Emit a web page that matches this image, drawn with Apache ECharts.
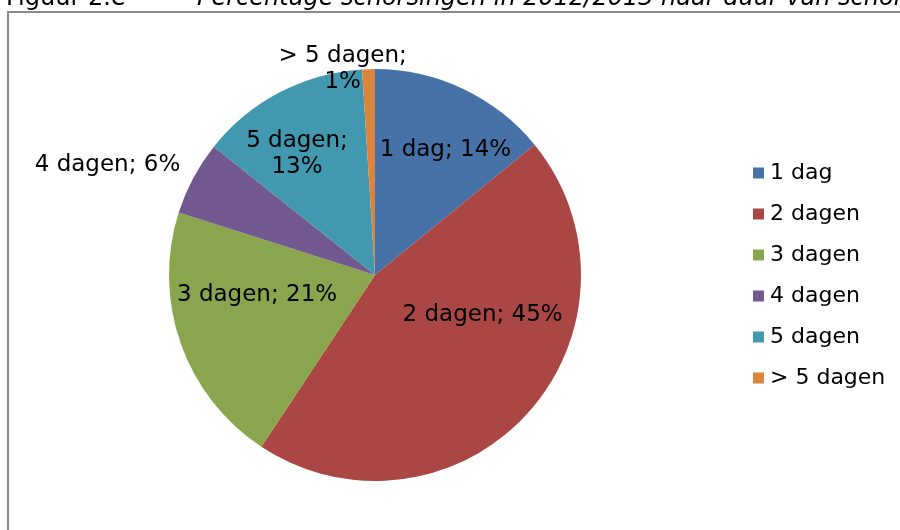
<!DOCTYPE html>
<html>
<head>
<meta charset="utf-8">
<script src="https://cdn.jsdelivr.net/npm/echarts@6/dist/echarts.min.js"></script>
<style>
  html, body { margin: 0; padding: 0; background: #fff; }
  #chart { width: 900px; height: 530px; }
</style>
</head>
<body>
<div id="chart"></div>
<script>
// duur van schorsing
const categories = ["1 dag", "2 dagen", "3 dagen", "4 dagen", "5 dagen", "> 5 dagen"];
// percentage schorsingen 2012/2013
const values = [14.1, 45.2, 20.6, 5.8, 13.3, 1.0];
const colors = ["#4672A8", "#AA4643", "#89A54E", "#71588F", "#4198AF", "#DB843D"];

// labels die over twee regels lopen
const wrapped = ["5 dagen", "> 5 dagen"];
// verschuiving van de labels t.o.v. het midden van de straal
const labelOffsets = [[25, -29], [29, -31], [-18, -15], [-174, -60], [-29, -27], [-29, -100]];

const font = "DejaVu Sans, Verdana, sans-serif";
const chart = echarts.init(document.getElementById("chart"));

const option = {
  animation: false,
  color: colors,
  graphic: [
    {
      type: "rect",
      shape: { x: 8, y: 12, width: 1000, height: 1000 },
      style: { fill: "none", stroke: "#8a8a8a", lineWidth: 2 },
    },
    {
      type: "text",
      x: 6,
      y: 11,
      style: {
        text: "Figuur 2.e",
        font: "24px " + font,
        fill: "#000",
        verticalAlign: "bottom",
      },
    },
    {
      type: "text",
      x: 197,
      y: 11,
      style: {
        text: "Percentage schorsingen in 2012/2013 naar duur van schorsing",
        font: "italic 24px " + font,
        fill: "#000",
        verticalAlign: "bottom",
      },
    },
  ],
  legend: {
    orient: "vertical",
    left: 748,
    top: 157,
    icon: "rect",
    itemWidth: 11,
    itemHeight: 11,
    itemGap: 19,
    data: categories,
    textStyle: {
      fontFamily: font,
      fontSize: 22,
      color: "#000",
      padding: [0, 0, 0, 1],
    },
  },
  series: [
    {
      type: "pie",
      center: [375, 275],
      radius: 206,
      startAngle: 90,
      clockwise: true,
      avoidLabelOverlap: false,
      itemStyle: { borderWidth: 0 },
      emphasis: { disabled: true },
      label: {
        position: "inside",
        fontFamily: font,
        fontSize: 23,
        lineHeight: 26,
        color: "#000",
        align: "center",
        formatter: (p) =>
          p.name + ";" + (wrapped.includes(p.name) ? "\n" : " ") + Math.round(p.value) + "%",
      },
      labelLine: { show: false },
      data: categories.map((name, i) => ({
        name: name,
        value: values[i],
        label: { offset: labelOffsets[i] },
      })),
    },
  ],
};

chart.setOption(option);
</script>
</body>
</html>
